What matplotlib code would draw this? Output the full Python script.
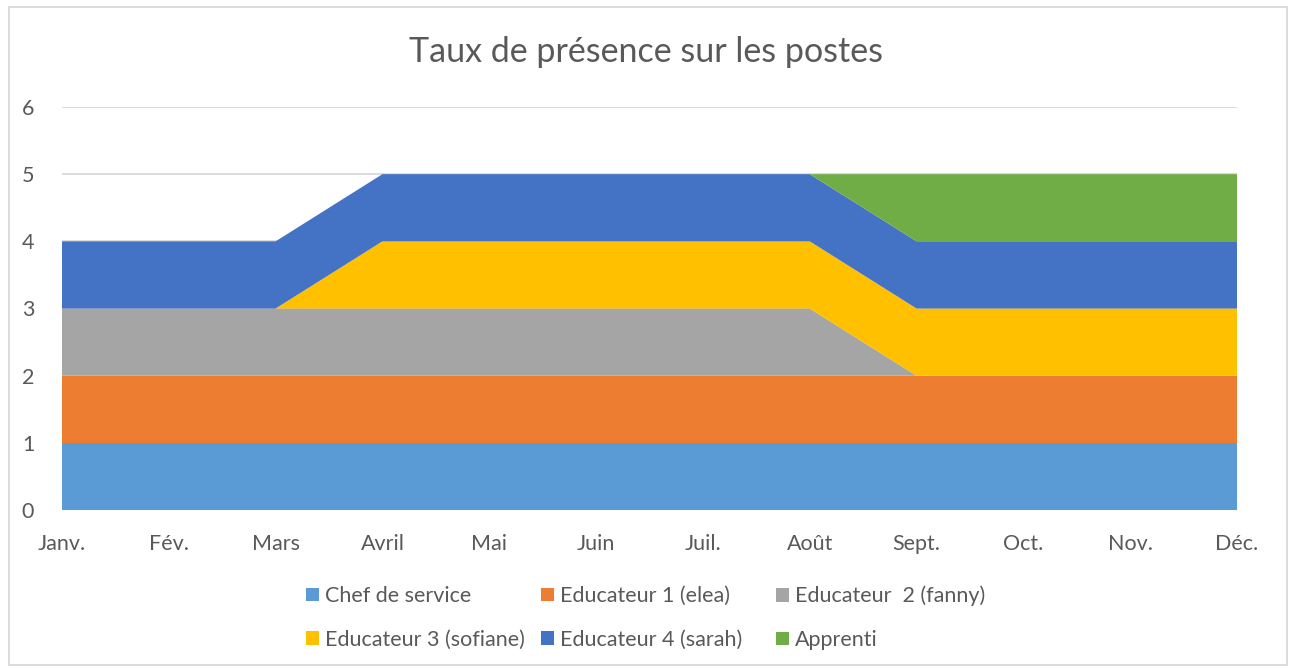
import matplotlib.pyplot as plt
from matplotlib.patches import Rectangle, Patch

plt.rcParams['font.family'] = ['Lato', 'DejaVu Sans']

months = ['Janv.', 'Fév.', 'Mars', 'Avril', 'Mai', 'Juin',
          'Juil.', 'Août', 'Sept.', 'Oct.', 'Nov.', 'Déc.']

chef = [1, 1, 1, 1, 1, 1, 1, 1, 1, 1, 1, 1]
edu1_elea = [1, 1, 1, 1, 1, 1, 1, 1, 1, 1, 1, 1]
edu2_fanny = [1, 1, 1, 1, 1, 1, 1, 1, 0, 0, 0, 0]
edu3_sofiane = [0, 0, 0, 1, 1, 1, 1, 1, 1, 1, 1, 1]
edu4_sarah = [1, 1, 1, 1, 1, 1, 1, 1, 1, 1, 1, 1]
apprenti = [0, 0, 0, 0, 0, 0, 0, 0, 1, 1, 1, 1]

labels = ['Chef de service', 'Educateur 1 (elea)', 'Educateur  2 (fanny)',
          'Educateur 3 (sofiane)', 'Educateur 4 (sarah)', 'Apprenti']
colors = ['#5B9BD5', '#ED7D31', '#A5A5A5', '#FFC000', '#4472C4', '#70AD47']
TEXT = '#595959'
GRID = '#D9D9D9'

W, H = 1292, 668
fig = plt.figure(figsize=(W / 100, H / 100), dpi=100)
ax = fig.add_axes([62 / W, 1 - 510 / H, (1237 - 62) / W, (510 - 107) / H])

x = range(len(months))
ax.stackplot(x, chef, edu1_elea, edu2_fanny, edu3_sofiane, edu4_sarah, apprenti,
             colors=colors, labels=labels, linewidth=0, zorder=3)

ax.set_xlim(0, len(months) - 1)
ax.set_ylim(0, 6)
ax.set_yticks(range(0, 7))
ax.set_xticks(list(x))
ax.set_xticklabels(months)
ax.grid(axis='y', color=GRID, linewidth=1.3, zorder=0)
for s in ax.spines.values():
    s.set_visible(False)
ax.tick_params(length=0, labelsize=15.5, colors=TEXT)
ax.tick_params(axis='y', pad=20)
ax.tick_params(axis='x', pad=17)

fig.text(0.5, 1 - 52 / H, 'Taux de présence sur les postes', ha='center', va='center',
         fontsize=24.5, color=TEXT)

# legend in three equal-width columns, filled row by row
col_x = [306, 541, 776]
for j, cx in enumerate(col_x):
    idx = [j, j + 3]
    handles = [Patch(facecolor=colors[i], edgecolor='none') for i in idx]
    fig.legend(handles, [labels[i] for i in idx], ncol=1, loc='center left',
               bbox_to_anchor=(cx / W, 1 - 618 / H), frameon=False, fontsize=15.5,
               labelcolor=TEXT, handlelength=0.6, handleheight=0.6, handletextpad=0.3,
               labelspacing=1.1, borderpad=0, borderaxespad=0)

fig.patches.append(Rectangle((9 / W, 1 - 665 / H), (1287 - 9) / W, (665 - 7) / H,
                             transform=fig.transFigure, fill=False,
                             edgecolor=GRID, linewidth=1.3))

fig.savefig('out.png', dpi=100, facecolor='white')
